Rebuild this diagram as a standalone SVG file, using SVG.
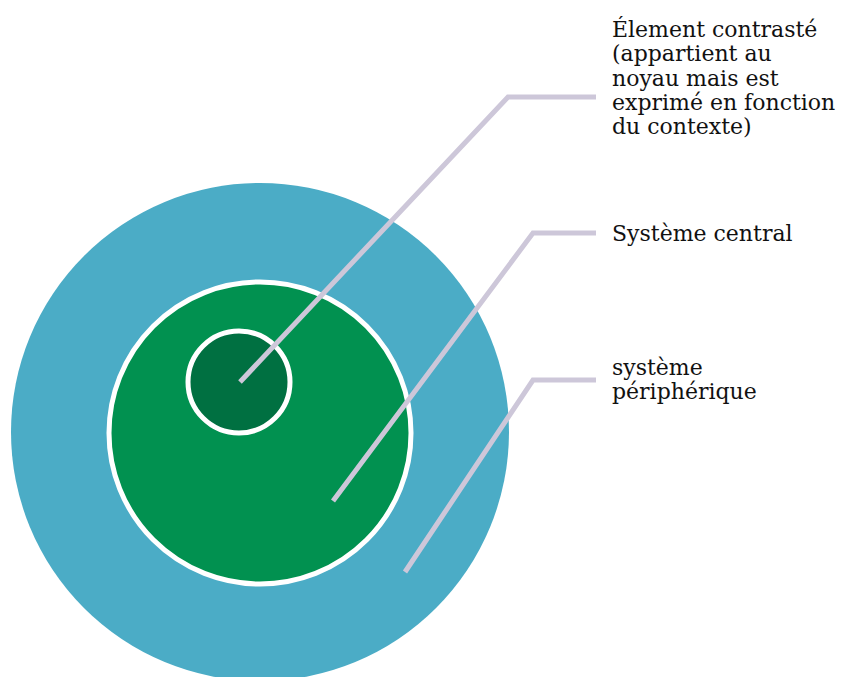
<svg xmlns="http://www.w3.org/2000/svg" width="842" height="677" viewBox="0 0 842 677">
<style>
.lbl{font-family:"DejaVu Serif","Liberation Serif",serif;font-size:22px;fill:#111}
.ring{stroke:#fff;stroke-width:5}
.conn{fill:none;stroke:#cdc7d9;stroke-width:5}
</style>
<rect width="842" height="677" fill="#fff"/>
<g id="peripheral"><circle cx="260" cy="432" r="249" fill="#4bacc6"/></g>
<g id="central"><circle cx="260" cy="433" r="151" fill="#019150" class="ring"/></g>
<g id="contrasted"><circle cx="239" cy="382" r="51" fill="#007041" class="ring"/></g>
<g id="connectors">
<polyline class="conn" points="240,382 508,97 596,97"/>
<polyline class="conn" points="333,501 533,233 596,233"/>
<polyline class="conn" points="405,572 533,380 596,380"/>
</g>
<g id="label-contrasted">
<text class="lbl" x="612" y="37">Élement contrasté</text>
<text class="lbl" x="612" y="61">(appartient au</text>
<text class="lbl" x="612" y="86">noyau mais est</text>
<text class="lbl" x="612" y="110">exprimé en fonction</text>
<text class="lbl" x="612" y="134">du contexte)</text>
</g>
<g id="label-central"><text class="lbl" x="612" y="241">Système central</text></g>
<g id="label-peripheral">
<text class="lbl" x="612" y="375">système</text>
<text class="lbl" x="612" y="399">périphérique</text>
</g>
</svg>
